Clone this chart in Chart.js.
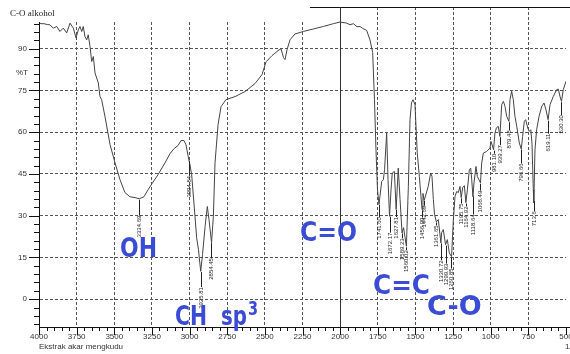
<!DOCTYPE html>
<html><head><meta charset="utf-8">
<script src="https://cdn.jsdelivr.net/npm/chart.js@4/dist/chart.umd.min.js"></script>
<style>html,body{margin:0;padding:0;background:#fff}#wrap{width:570px;height:354px;position:relative}</style>
</head><body><div id="wrap"><canvas id="c" width="570" height="354"></canvas></div>
<script>
// ---- data ----
const wavenumbers = [4000,3987,3967,3945,3927,3905,3882,3861,3839,3816,3794,3772,3754,3739,3728,3716,3706,3695,3683,3673,3661,3650,3639,3628,3606,3595,3584,3562,3528,3495,3462,3429,3396,3362,3334,3303,3276,3250,3210,3163,3130,3103,3077,3057,3037,3024,3005,2998,2986,2964,2953,2941,2926,2914,2897,2882,2871,2854,2842,2831,2824,2811,2791,2758,2698,2632,2565,2519,2492,2453,2413,2393,2376,2366,2353,2333,2300,2245,2178,2112,2045,2001,1956,1934,1912,1888,1868,1850,1824,1802,1784,1772,1762,1752,1742,1724,1713,1705,1691,1682,1672,1662,1654,1640,1628,1614,1602,1589,1579,1560,1547,1536,1526,1516,1503,1488,1474,1456,1450,1442,1415,1399,1390,1381,1373,1361,1348,1331,1326,1315,1300,1288,1275,1260,1248,1237,1226,1215,1204,1196,1186,1175,1165,1155,1142,1133,1126,1118,1111,1098,1089,1078,1068,1060,1049,1027,1005,998,981,972,962,950,939,927,916,905,894,879,872,861,850,839,827,810,797,788,777,768,754,744,734,726,717,714,706,695,679,661,646,633,619,606,584,562,551,540,530,518,500];
const transmittance = [99.4,99.0,99.0,98.7,98.6,97.4,98.0,96.2,97.4,95.7,99.2,97.4,93.9,96.8,98.0,96.2,98.0,94.4,93.2,95.0,90.8,85.4,87.2,81.3,77.7,72.9,71.7,65.7,55.5,49.0,42.9,38.3,36.8,36.5,36.1,36.8,39.3,41.5,44.7,49.0,52.3,54.1,55.2,57.0,57.0,55.5,50.1,48.5,44.7,29.8,22.1,17.8,10.0,16.0,26.2,33.3,28.6,20.3,29.8,49.0,53.7,62.7,69.2,71.7,72.8,74.6,77.5,80.7,85.3,87.5,89.3,90.0,86.8,86.1,89.6,93.2,95.3,96.2,97.1,98.0,99.0,99.6,99.2,98.6,99.0,97.9,98.0,97.3,96.6,93.2,88.6,71.7,53.7,39.3,34.0,42.3,42.9,46.5,59.7,42.9,29.8,39.3,45.3,45.9,32.2,47.1,35.8,23.8,25.7,19.0,40.5,64.5,70.6,71.7,69.9,52.6,44.1,32.2,38.0,35.5,40.5,45.3,44.1,35.8,30.4,27.8,28.6,20.2,23.9,25.0,19.6,21.4,16.6,15.3,28.6,36.9,38.7,38.3,40.5,36.5,40.1,40.8,34.7,39.3,46.5,47.1,42.9,36.8,41.8,47.7,44.1,42.9,41.8,48.9,52.5,53.1,54.3,56.7,53.7,59.7,61.6,62.1,58.5,69.9,71.1,69.3,65.7,63.9,71.7,74.7,71.7,65.7,62.1,56.1,54.0,58.5,63.9,64.5,61.5,60.3,60.9,56.1,39.3,34.6,53.7,60.9,65.7,69.3,70.5,68.1,64.5,69.9,72.9,75.3,75.5,72.9,71.1,75.3,78.3];
const xTickValues = [4000,3750,3500,3250,3000,2750,2500,2250,2000,1750,1500,1250,1000,750,500];
const yTickValues = [0,15,30,45,60,75,90];
const peakWavenumbers = [3334.69,3004.84,2925.81,2854.45,1741.60,1672.17,1627.81,1589.23,1560.02,1456.00,1442.69,1361.65,1330.72,1299.93,1260.85,1195.75,1164.92,1118.64,1068.49,981.10,939.27,879.48,796.66,713.6,619.11,530.30];
const peakLabels = ["3334.69","3004.84","2925.81","2854.45","1741.60","1672.17","1627.81","1589.23","1560.02","1456.00","1442.69","1361.65","1330.72","1299.93","1260.85","1195.75","1164.92","1118.64","1068.49","981.10","939.27","879.48","796.66","713.6","619.11","530.30"];
const annotationTexts = ["OH","CH","sp","3","C=O","C=C","C-O"];
const chartTitle = "C-O alkohol";
const yAxisTitle = "%T";
const xAxisTitle = "Ekstrak akar mengkudu";
const xUnit = "1/cm";

// ---- styles (pixel offsets for peak leader lines) ----
const labelDrops = [16,15,15,15,12,16,7,5,3,7,5,3,17,18,11,5,3,18,7,3,8,8,14,10,13,13];

function interpT(w){
  for(let i=0;i<wavenumbers.length-1;i++){
    const a=wavenumbers[i], b=wavenumbers[i+1];
    if(w<=a && w>=b){ const t=(a-w)/(a-b); return transmittance[i]+t*(transmittance[i+1]-transmittance[i]); }
  }
  return transmittance[transmittance.length-1];
}

const overlay = {
  id:'overlay',
  afterDraw(chart){
    const {ctx, chartArea:a, scales:{x,y}} = chart;
    ctx.save();
    const xMask = Math.round(x.getPixelForValue(2200));
    const yLeftTop = a.top + 15;
    ctx.fillStyle='#fff';
    ctx.fillRect(0,0,xMask,yLeftTop);
    ctx.strokeStyle='#111'; ctx.lineWidth=1;
    const L=(x1,y1,x2,y2)=>{ctx.beginPath();ctx.moveTo(x1,y1);ctx.lineTo(x2,y2);ctx.stroke();};
    const r=v=>Math.round(v)+0.5;
    // spines
    L(r(a.left), yLeftTop, r(a.left), r(a.bottom));
    L(a.left, r(a.bottom), 570, r(a.bottom));
    L(xMask, r(a.top), 570, r(a.top));
    ctx.strokeStyle='#333';
    const x2000=r(x.getPixelForValue(2000));
    L(x2000, a.top, x2000, a.bottom);
    // ticks
    ctx.strokeStyle='#111';
    for(let v=500; v<=4000; v+=50){
      const px=r(x.getPixelForValue(v));
      L(px, a.bottom, px, a.bottom + (v%250===0?8:4));
    }
    for(let v=-9; v<=99; v+=3){
      const py=r(y.getPixelForValue(v));
      L(a.left-(v%15===0?10:5), py, a.left, py);
    }
    // peak labels
    ctx.fillStyle='#222'; ctx.strokeStyle='#222';
    ctx.font='6px "Liberation Sans", Arial, sans-serif';
    peakWavenumbers.forEach((w,i)=>{
      const px=r(x.getPixelForValue(w));
      const py=y.getPixelForValue(interpT(w));
      const top=py+labelDrops[i];
      L(px, py+1, px, top+1);
      ctx.save();
      ctx.translate(px, top+1);
      ctx.rotate(-Math.PI/2);
      ctx.textAlign='right'; ctx.textBaseline='middle';
      ctx.fillText(peakLabels[i],0,0);
      ctx.restore();
    });
    // texts
    ctx.fillStyle='#222';
    ctx.textAlign='left'; ctx.textBaseline='alphabetic';
    ctx.font='9px "Liberation Serif", serif';
    ctx.fillText(chartTitle, 10, 16);
    ctx.fillStyle='#333';
    ctx.font='8px "Liberation Sans", Arial, sans-serif';
    ctx.fillText(yAxisTitle, 16, 75);
    ctx.fillText(xAxisTitle, 39, 349);
    ctx.fillText(xUnit, 565, 349);
    // blue annotations
    ctx.fillStyle='#3a4cd6';
    ctx.font='bold 27px "DejaVu Sans", sans-serif';
    ctx.fillText(annotationTexts[0], 120, 257, 37);
    ctx.fillText(annotationTexts[1], 175, 325, 32);
    ctx.fillText(annotationTexts[2], 221, 325, 26);
    ctx.fillText(annotationTexts[4], 300, 241, 57);
    ctx.fillText(annotationTexts[5], 373, 294, 57);
    ctx.fillText(annotationTexts[6], 427, 315, 56);
    ctx.font='bold 19px "DejaVu Sans", sans-serif';
    ctx.fillText(annotationTexts[3], 248, 315, 10);
    ctx.restore();
  }
};

new Chart(document.getElementById('c'), {
  type:'line',
  data:{ datasets:[{
    data: wavenumbers.map((w,i)=>({x:w, y:transmittance[i]})),
    borderColor:'#444', borderWidth:1, pointRadius:0, tension:0, fill:false
  }]},
  options:{
    responsive:false, animation:false, devicePixelRatio:1,
    layout:{ padding:{top:7, right:4, left:0, bottom:0} },
    plugins:{ legend:{display:false}, tooltip:{enabled:false} },
    scales:{
      x:{
        type:'linear', reverse:true, min:500, max:4000,
        afterBuildTicks:s=>{ s.ticks = xTickValues.map(v=>({value:v})); },
        afterFit:s=>{ s.height=27; s.paddingLeft=0; s.paddingRight=0; },
        ticks:{ autoSkip:false, maxRotation:0, padding:5, color:'#333',
          font:{family:'"Liberation Sans", Arial, sans-serif', size:8},
          callback:v=>String(v) },
        grid:{ drawTicks:false, lineWidth:1,
          color:c=>(c.tick && (c.tick.value===4000 || c.tick.value===500)) ? 'rgba(0,0,0,0)' : '#555' },
        border:{ display:true, color:'#111', width:1, dash:[3,2] }
      },
      y:{
        type:'linear', min:-10, max:105,
        afterBuildTicks:s=>{ s.ticks = yTickValues.map(v=>({value:v})); },
        afterFit:s=>{ s.width=39; s.paddingTop=0; s.paddingBottom=0; },
        ticks:{ padding:12, color:'#333',
          font:{family:'"Liberation Sans", Arial, sans-serif', size:8},
          callback:v=>String(v) },
        grid:{ drawTicks:false, lineWidth:1, color:'#555' },
        border:{ display:true, color:'#111', width:1, dash:[3,2] }
      }
    }
  },
  plugins:[overlay]
});
</script>
</body></html>
